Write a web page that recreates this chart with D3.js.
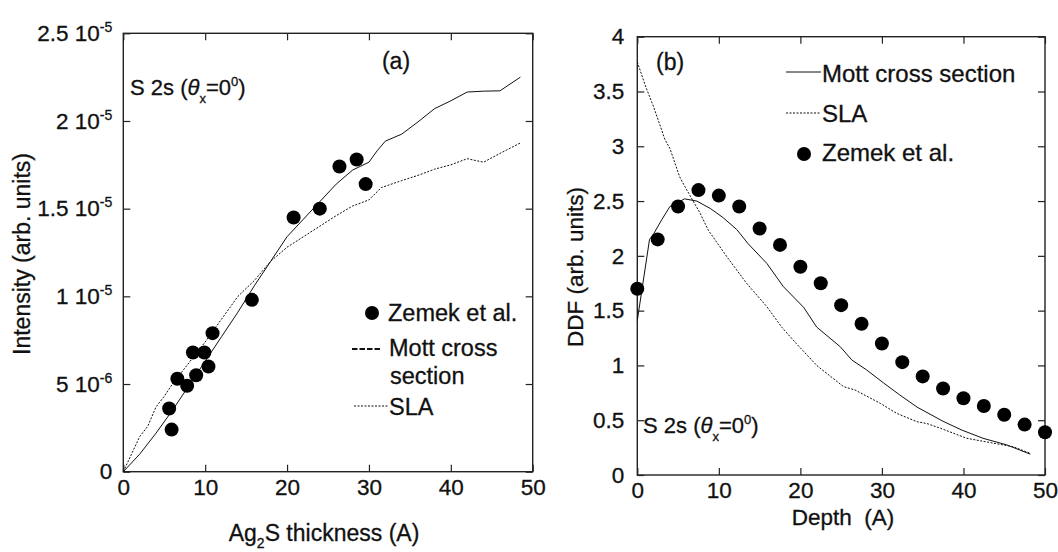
<!DOCTYPE html>
<meta charset="utf-8">
<script src="https://d3js.org/d3.v7.min.js"></script>
<style>
  body { margin: 0; background: #fff; }
  text { font-family: 'Liberation Sans', Arial, sans-serif; fill: #111; stroke: #111; stroke-width: 0.3px; }
</style>
<body>
<div id="my_dataviz"></div>
<script>

// ---------- panel (a): intensity vs Ag2S thickness (intensity in units of 1e-6) ----------
var zemekThick = [5.6, 5.9, 6.6, 7.8, 8.5, 8.9, 9.9, 10.4, 10.9, 15.7, 20.8, 24.0, 26.4, 28.5, 29.6];
var zemekInt   = [3.6, 2.4, 5.3, 4.9, 6.8, 5.5, 6.8, 6.0, 7.9, 9.8, 14.5, 15.0, 17.4, 17.8, 16.4];

var mottThick = [0, 2, 4, 6, 8, 10, 12, 14, 16, 18, 20, 22, 24, 26, 28, 30, 31, 32, 34, 36, 38, 40, 42, 44, 46, 48.5];
var mottInt   = [0, 1.0, 2.2, 3.5, 4.9, 6.3, 7.7, 9.1, 10.6, 12.0, 13.4, 14.4, 15.4, 16.4, 17.2, 17.65, 18.3, 18.85, 19.25, 19.95, 20.7, 21.15, 21.65, 21.7, 21.72, 22.5];

var slaThick = [0, 1, 2, 3, 4, 5, 6, 8, 10, 12, 14, 16, 18, 20, 22, 24, 26, 28, 30, 31.5, 34, 36, 38, 40, 42, 44, 46, 48.5];
var slaInt   = [0, 1.0, 2.0, 2.6, 3.7, 4.3, 5.0, 6.2, 7.4, 8.7, 10.0, 10.9, 12.0, 12.8, 13.4, 14.0, 14.6, 15.15, 15.5, 16.2, 16.6, 16.9, 17.25, 17.5, 17.85, 17.65, 18.15, 18.75];

var aXTicks = [0, 10, 20, 30, 40, 50];
var aYTicks = [0, 5, 10, 15, 20, 25];
var aYLabels = [["0", ""], ["5 10", "-6"], ["1 10", "-5"], ["1.5 10", "-5"], ["2 10", "-5"], ["2.5 10", "-5"]];

// ---------- panel (b): DDF vs depth ----------
var ddfDepth  = [0, 2.5, 5, 7.5, 10, 12.5, 15, 17.5, 20, 22.5, 25, 27.5, 30, 32.5, 35, 37.5, 40, 42.5, 45, 47.5, 50];
var ddfZemek  = [1.7, 2.15, 2.45, 2.6, 2.55, 2.45, 2.25, 2.1, 1.9, 1.75, 1.55, 1.38, 1.2, 1.03, 0.9, 0.79, 0.7, 0.63, 0.55, 0.46, 0.39];

var mottDepth = [0, 1.5, 2, 3, 4, 5.8, 7.3, 9, 10.5, 12.2, 13.6, 15.9, 17.9, 20.4, 22, 24.9, 26.3, 28.1, 30.2, 32.2, 34.3, 37.5, 39.8, 42.4, 45.3, 48.2];
var mottDDF   = [1.41, 2.15, 2.2, 2.33, 2.45, 2.52, 2.5, 2.43, 2.35, 2.24, 2.11, 1.93, 1.72, 1.53, 1.35, 1.17, 1.05, 0.96, 0.84, 0.73, 0.62, 0.49, 0.41, 0.335, 0.275, 0.19];

var slaDepth  = [0, 1, 2, 3.4, 4, 5.2, 5.85, 7.7, 8.7, 11, 13.4, 15.9, 17.7, 19.5, 22, 25.3, 26.7, 29.8, 31.8, 34.3, 35.5, 37.2, 40.4, 43.7, 46.1, 48.2];
var slaDDF    = [3.77, 3.55, 3.36, 3.06, 2.98, 2.72, 2.63, 2.39, 2.235, 1.99, 1.75, 1.535, 1.35, 1.2, 1.0, 0.806, 0.776, 0.654, 0.563, 0.486, 0.47, 0.426, 0.335, 0.29, 0.258, 0.198];

var bXTicks = [0, 10, 20, 30, 40, 50];
var bYTicks = [0, 0.5, 1, 1.5, 2, 2.5, 3, 3.5, 4];

// svg
var svg = d3.select("#my_dataviz")
  .append("svg")
    .attr("width", 1058)
    .attr("height", 552);

// scales
var xa = d3.scaleLinear().domain([0, 50]).range([123.3, 532.7]);
var ya = d3.scaleLinear().domain([0, 25]).range([471.7, 33.3]);
var xb = d3.scaleLinear().domain([0, 50]).range([637.3, 1045]);
var yb = d3.scaleLinear().domain([0, 4]).range([475, 36.7]);

function zip(a, b) { return a.map(function(d, i) { return [d, b[i]]; }); }

// draws a boxed frame with inward ticks on all four sides
function frame(x, y, xticks, yticks, padX, padY) {
  var x0 = x.range()[0], x1 = x.range()[1], y0 = y.range()[0], y1 = y.range()[1];
  var tk = 7;

  svg.append("g").attr("transform", "translate(0," + y0 + ")")
    .call(d3.axisBottom(x).tickValues(xticks).tickFormat(String).tickSizeInner(-tk).tickSizeOuter(0).tickPadding(padX));
  svg.append("g").attr("transform", "translate(0," + y1 + ")")
    .call(d3.axisTop(x).tickValues(xticks).tickSizeInner(-tk).tickSizeOuter(0).tickFormat(""));
  var left = svg.append("g").attr("transform", "translate(" + x0 + ",0)")
    .call(d3.axisLeft(y).tickValues(yticks).tickFormat(String).tickSizeInner(-tk).tickSizeOuter(0).tickPadding(padY));
  svg.append("g").attr("transform", "translate(" + x1 + ",0)")
    .call(d3.axisRight(y).tickValues(yticks).tickSizeInner(-tk).tickSizeOuter(0).tickFormat(""));

  svg.selectAll(".domain").remove();
  svg.selectAll(".tick line").attr("stroke", "#222").attr("stroke-width", 1.2);
  svg.selectAll(".tick text")
    .attr("font-family", "'Liberation Sans', Arial, sans-serif")
    .attr("font-size", "22.5px").attr("fill", "#111");

  svg.append("rect")
    .attr("x", x0).attr("y", y1)
    .attr("width", x1 - x0).attr("height", y0 - y1)
    .attr("fill", "none").attr("stroke", "#222").attr("stroke-width", 1.4);
  return left;
}

// ---------- panel (a) ----------
var leftA = frame(xa, ya, aXTicks, aYTicks, 7, 11);
leftA.selectAll(".tick text").each(function(d, i) {
  var t = d3.select(this).text(aYLabels[i][0]);
  if (aYLabels[i][1]) {
    t.append("tspan").attr("font-size", "14px").attr("dy", "-9").text(aYLabels[i][1]);
  }
});

var line = d3.line();

svg.append("path")
  .attr("d", line(zip(mottThick, mottInt).map(function(d) { return [xa(d[0]), ya(d[1])]; })))
  .attr("fill", "none").attr("stroke", "#111").attr("stroke-width", 1);
svg.append("path")
  .attr("d", line(zip(slaThick, slaInt).map(function(d) { return [xa(d[0]), ya(d[1])]; })))
  .attr("fill", "none").attr("stroke", "#111").attr("stroke-width", 1)
  .attr("stroke-dasharray", "2,1.5");

svg.selectAll(".dotA")
  .data(zip(zemekThick, zemekInt))
  .enter().append("circle")
    .attr("cx", function(d) { return xa(d[0]); })
    .attr("cy", function(d) { return ya(d[1]); })
    .attr("r", 7).attr("fill", "#000");

// axis titles (a)
svg.append("text")
  .attr("transform", "translate(30,254)rotate(-90)")
  .attr("text-anchor", "middle").attr("font-size", "23px")
  .text("Intensity (arb. units)");
var tA = svg.append("text").attr("x", 324).attr("y", 541).attr("text-anchor", "middle").attr("font-size", "23px");
tA.append("tspan").text("Ag");
tA.append("tspan").attr("font-size", "14px").attr("dy", "7").text("2");
tA.append("tspan").attr("dy", "-7").text("S thickness (A)");

svg.append("text").attr("x", 396).attr("y", 69).attr("text-anchor", "middle").attr("font-size", "23px").text("(a)");

function s2sLabel(x, y) {
  var t = svg.append("text").attr("x", x).attr("y", y).attr("font-size", "22px");
  t.append("tspan").text("S 2s (");
  t.append("tspan").attr("font-style", "italic").text("\u03B8");
  t.append("tspan").attr("font-size", "13px").attr("dy", "8").text("x");
  t.append("tspan").attr("dy", "-8").text("=0");
  t.append("tspan").attr("font-size", "13px").attr("dy", "-9").text("0");
  t.append("tspan").attr("dy", "9").text(")");
}
s2sLabel(130, 95);

// legend (a)
svg.append("circle").attr("cx", 372).attr("cy", 313).attr("r", 7).attr("fill", "#000");
svg.append("text").attr("x", 388).attr("y", 321).attr("font-size", "23.5px").text("Zemek et al.");
svg.append("line").attr("x1", 352).attr("x2", 380).attr("y1", 349).attr("y2", 349)
  .attr("stroke", "#111").attr("stroke-width", 2).attr("stroke-dasharray", "5.5,2");
svg.append("text").attr("x", 389).attr("y", 356).attr("font-size", "23.5px").text("Mott cross");
svg.append("text").attr("x", 390).attr("y", 384).attr("font-size", "23.5px").text("section");
svg.append("line").attr("x1", 354).attr("x2", 388).attr("y1", 406).attr("y2", 406)
  .attr("stroke", "#111").attr("stroke-width", 1).attr("stroke-dasharray", "2,1.5");
svg.append("text").attr("x", 389).attr("y", 415).attr("font-size", "23.5px").text("SLA");

// ---------- panel (b) ----------
frame(xb, yb, bXTicks, bYTicks, 7, 13);

svg.append("path")
  .attr("d", line(zip(mottDepth, mottDDF).map(function(d) { return [xb(d[0]), yb(d[1])]; })))
  .attr("fill", "none").attr("stroke", "#111").attr("stroke-width", 1);
svg.append("path")
  .attr("d", line(zip(slaDepth, slaDDF).map(function(d) { return [xb(d[0]), yb(d[1])]; })))
  .attr("fill", "none").attr("stroke", "#111").attr("stroke-width", 1)
  .attr("stroke-dasharray", "2,1.5");

svg.selectAll(".dotB")
  .data(zip(ddfDepth, ddfZemek))
  .enter().append("circle")
    .attr("cx", function(d) { return xb(d[0]); })
    .attr("cy", function(d) { return yb(d[1]); })
    .attr("r", 7).attr("fill", "#000");

svg.append("text")
  .attr("transform", "translate(583,267)rotate(-90)")
  .attr("text-anchor", "middle").attr("font-size", "22.5px")
  .text("DDF (arb. units)");
svg.append("text").attr("x", 843).attr("y", 525).attr("text-anchor", "middle")
  .attr("font-size", "22.5px").style("white-space", "pre").text("Depth  (A)");

svg.append("text").attr("x", 656).attr("y", 70).attr("font-size", "23px").text("(b)");
s2sLabel(643, 433);

// legend (b)
svg.append("line").attr("x1", 786).attr("x2", 821).attr("y1", 72).attr("y2", 72)
  .attr("stroke", "#111").attr("stroke-width", 1);
svg.append("text").attr("x", 822).attr("y", 82).attr("font-size", "24px").text("Mott cross section");
svg.append("line").attr("x1", 786).attr("x2", 821).attr("y1", 113).attr("y2", 113)
  .attr("stroke", "#111").attr("stroke-width", 1).attr("stroke-dasharray", "2,1.5");
svg.append("text").attr("x", 822).attr("y", 122).attr("font-size", "24px").text("SLA");
svg.append("circle").attr("cx", 804).attr("cy", 154).attr("r", 7).attr("fill", "#000");
svg.append("text").attr("x", 822).attr("y", 161).attr("font-size", "24px").text("Zemek et al.");

</script>
</body>
